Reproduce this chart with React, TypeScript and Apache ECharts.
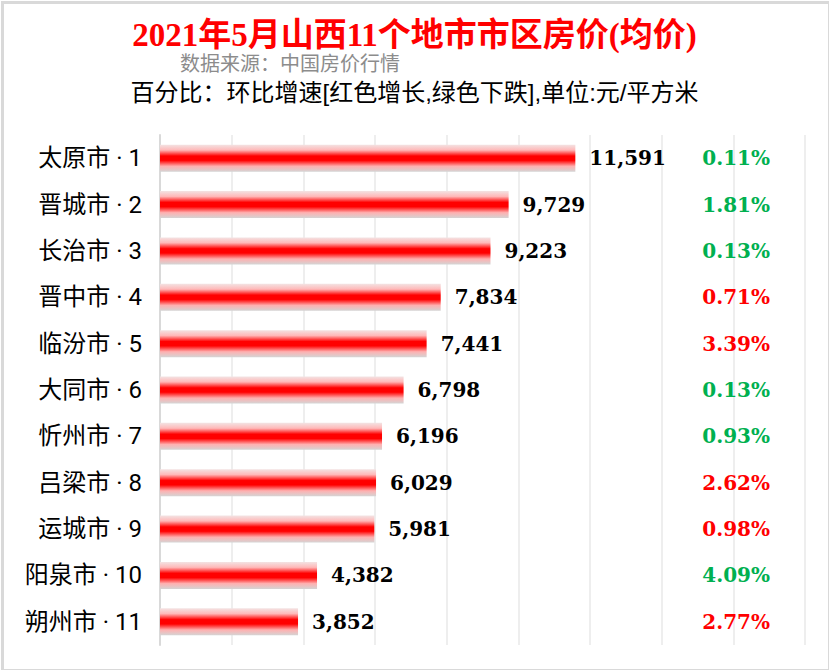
import React, { useEffect, useRef } from "react";
import * as echarts from "echarts";

const cities = ["太原市", "晋城市", "长治市", "晋中市", "临汾市", "大同市", "忻州市", "吕梁市", "运城市", "阳泉市", "朔州市"];
const prices = [11591, 9729, 9223, 7834, 7441, 6798, 6196, 6029, 5981, 4382, 3852];
const changes = [-0.11, -1.81, -0.13, 0.71, 3.39, -0.13, -0.93, 2.62, 0.98, -4.09, 2.77];
const titleText = "2021年5月山西11个地市市区房价(均价)";
const sourceText = "数据来源：中国房价行情";
const noteText = "百分比：环比增速[红色增长,绿色下跌],单位:元/平方米";

const categories = cities.map((c, i) => `${c} · ${i + 1}`);

export default function App() {
  const ref = useRef<HTMLDivElement>(null);
  useEffect(() => {
    document.body.style.margin = "0";
    const chart = echarts.init(ref.current!, null, { renderer: "svg" });
    const barGradient = new echarts.graphic.LinearGradient(0, 0, 0, 1, [
      { offset: 0, color: "#f3e3e3" },
      { offset: 0.2, color: "#ffb8b8" },
      { offset: 0.42, color: "#ff0000" },
      { offset: 0.58, color: "#ff0000" },
      { offset: 0.8, color: "#ffb0b0" },
      { offset: 1, color: "#d4d4d4" },
    ]);
    chart.setOption({
      animation: false,
      backgroundColor: "#ffffff",
      title: [
        {
          text: titleText,
          left: "center",
          top: 13,
          textStyle: { color: "#ff0000", fontSize: 33, fontWeight: "bold", fontFamily: "Liberation Serif, Noto Sans CJK SC" },
        },
        {
          text: sourceText,
          left: 180,
          top: 54,
          padding: 0,
          textStyle: { color: "#8c8c8c", fontSize: 20, lineHeight: 20, fontWeight: "normal", fontFamily: "Liberation Sans, Noto Sans CJK SC" },
        },
        {
          text: noteText,
          left: "center",
          top: 80,
          padding: 0,
          textStyle: { color: "#000000", fontSize: 24, lineHeight: 24, fontWeight: "normal", fontFamily: "Liberation Sans, Noto Sans CJK SC" },
        },
      ],
      graphic: [
        {
          type: "rect",
          left: 0,
          top: 0,
          shape: { x: 1, y: 1, width: 827, height: 668 },
          style: { fill: "none", stroke: "#d9d9d9", lineWidth: 3 },
          silent: true,
        },
      ],
      grid: { left: 160, right: 24, top: 135, bottom: 25, containLabel: false },
      xAxis: {
        type: "value",
        min: 0,
        max: 18000,
        interval: 2000,
        axisLabel: { show: false },
        axisLine: { show: false },
        axisTick: { show: false },
        splitLine: { show: true, lineStyle: { color: "#eeeeee", width: 2 } },
      },
      yAxis: [
        {
          type: "category",
          data: categories,
          inverse: true,
          axisLine: { show: true, lineStyle: { color: "#d9d9d9", width: 2 } },
          axisTick: { show: false },
          axisLabel: { color: "#000000", fontSize: 24, margin: 18, fontFamily: "Roboto, Noto Sans CJK SC" },
        },
        {
          type: "category",
          data: changes.map((v) => v),
          inverse: true,
          position: "right",
          axisLine: { show: false },
          axisTick: { show: false },
          axisLabel: {
            inside: true,
            margin: 35,
            formatter: (v: string) => {
              const n = parseFloat(v);
              const t = Math.abs(n).toFixed(2) + "%";
              return n < 0 ? `{g|${t}}` : `{r|${t}}`;
            },
            rich: {
              g: { color: "#00b050", fontSize: 20, fontWeight: "bold", fontFamily: "DejaVu Serif" },
              r: { color: "#ff0000", fontSize: 20, fontWeight: "bold", fontFamily: "DejaVu Serif" },
            },
          },
        },
      ],
      series: [
        {
          type: "bar",
          data: prices,
          barWidth: 27,
          itemStyle: { color: barGradient },
          label: {
            show: true,
            position: "right",
            distance: 14,
            color: "#000000",
            fontSize: 20,
            fontWeight: "bold",
            fontFamily: "DejaVu Serif",
            formatter: (p: any) => p.value.toLocaleString("en-US"),
          },
        },
      ],
    });
    return () => chart.dispose();
  }, []);
  return <div ref={ref} style={{ width: 829, height: 670, position: "absolute", left: 0, top: 0 }} />;
}
